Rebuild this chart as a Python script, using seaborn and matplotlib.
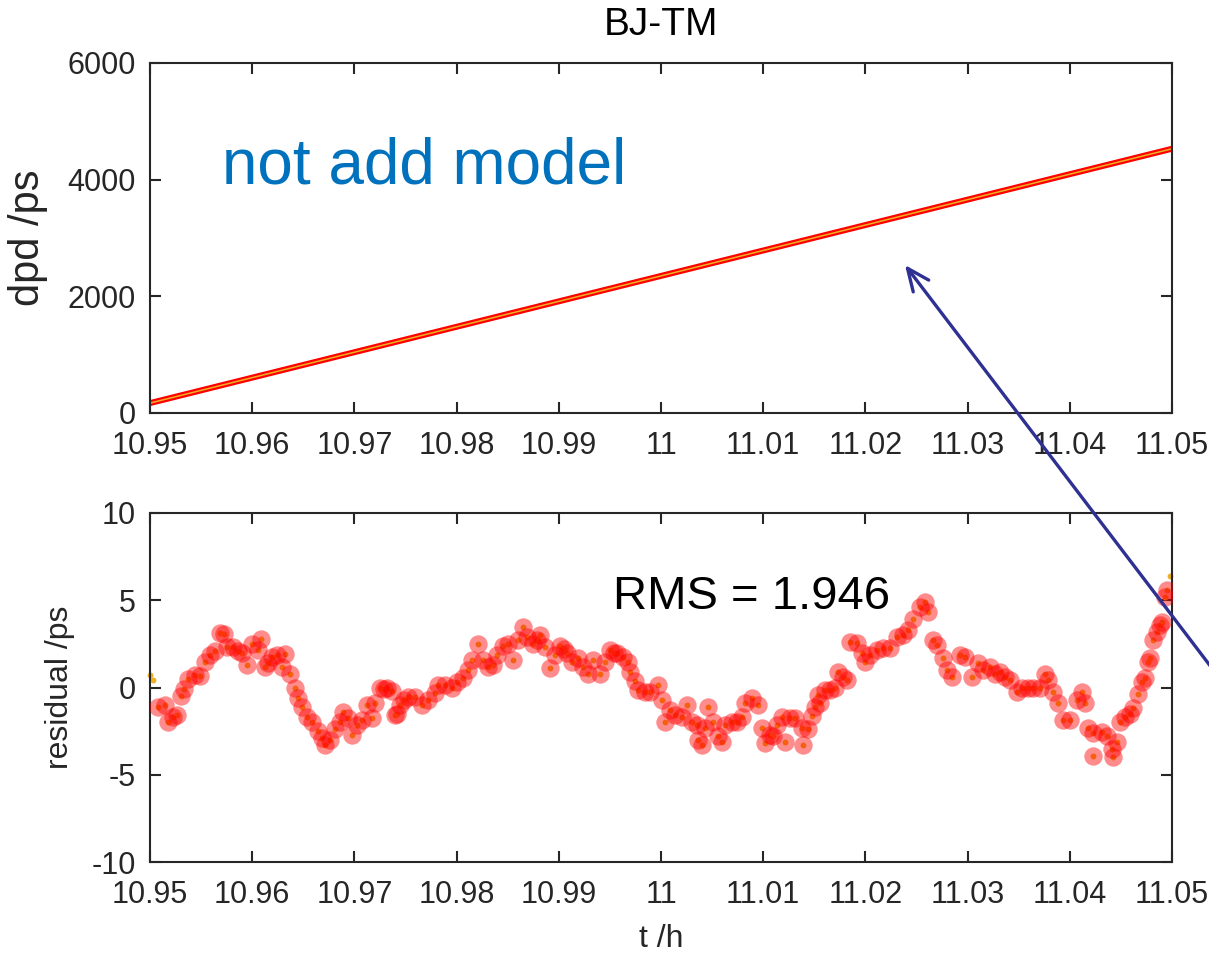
import numpy as np
import pandas as pd
import matplotlib
matplotlib.use("Agg")
import matplotlib.pyplot as plt
import seaborn as sns
from matplotlib.patches import FancyArrowPatch

# ---------------- data ----------------
title = "BJ-TM"
x_ticks = [10.95, 10.96, 10.97, 10.98, 10.99, 11.00, 11.01, 11.02, 11.03, 11.04, 11.05]
x_ticklabels = ["10.95", "10.96", "10.97", "10.98", "10.99", "11", "11.01", "11.02", "11.03", "11.04", "11.05"]
dpd_yticks = [0, 2000, 4000, 6000]
res_yticks = [-10, -5, 0, 5, 10]

t_dpd = [10.95, 10.97, 10.99, 11.01, 11.03, 11.05]
dpd = [170, 1042, 1914, 2786, 3658, 4530]

t_res = [
    10.95078, 10.95147, 10.95176, 10.95225, 10.95264, 10.95303, 10.95333, 10.95372, 10.95440, 10.95489,
    10.95538, 10.95587, 10.95636, 10.95685, 10.95724, 10.95753, 10.95812, 10.95861, 10.95900, 10.95949,
    10.95998, 10.96057, 10.96086, 10.96125, 10.96155, 10.96194, 10.96243, 10.96292, 10.96321, 10.96370,
    10.96419, 10.96448, 10.96487, 10.96536, 10.96585, 10.96644, 10.96683, 10.96712, 10.96761, 10.96810,
    10.96859, 10.96888, 10.96937, 10.96977, 10.97025, 10.97074, 10.97123, 10.97172, 10.97202, 10.97250,
    10.97290, 10.97319, 10.97368, 10.97397, 10.97417, 10.97446, 10.97485, 10.97524, 10.97593, 10.97661,
    10.97720, 10.97789, 10.97818, 10.97886, 10.97955, 10.98004, 10.98063, 10.98112, 10.98151, 10.98209,
    10.98258, 10.98307, 10.98356, 10.98395, 10.98454, 10.98503, 10.98552, 10.98601, 10.98650, 10.98689,
    10.98748, 10.98787, 10.98816, 10.98865, 10.98914, 10.98963, 10.99012, 10.99051, 10.99080, 10.99129,
    10.99188, 10.99237, 10.99286, 10.99335, 10.99403, 10.99452, 10.99501, 10.99540, 10.99570, 10.99628,
    10.99677, 10.99697, 10.99746, 10.99775, 10.99843, 10.99892, 10.99971, 11.00010, 11.00039, 11.00088,
    11.00137, 11.00205, 11.00254, 11.00303, 11.00352, 11.00362, 11.00401, 11.00431, 11.00460, 11.00509,
    11.00558, 11.00597, 11.00626, 11.00695, 11.00744, 11.00793, 11.00822, 11.00890, 11.00949, 11.00988,
    11.01018, 11.01067, 11.01096, 11.01135, 11.01184, 11.01213, 11.01262, 11.01311, 11.01380, 11.01389,
    11.01438, 11.01477, 11.01507, 11.01536, 11.01556, 11.01605, 11.01654, 11.01703, 11.01732, 11.01781,
    11.01820, 11.01849, 11.01918, 11.01967, 11.01996, 11.02045, 11.02114, 11.02172, 11.02241, 11.02309,
    11.02368, 11.02417, 11.02466, 11.02534, 11.02583, 11.02613, 11.02661, 11.02701, 11.02759, 11.02798,
    11.02847, 11.02926, 11.02975, 11.03043, 11.03102, 11.03151, 11.03219, 11.03268, 11.03317, 11.03366,
    11.03415, 11.03483, 11.03532, 11.03591, 11.03640, 11.03708, 11.03757, 11.03787, 11.03836, 11.03885,
    11.03933, 11.04002, 11.04070, 11.04119, 11.04149, 11.04178, 11.04227, 11.04229, 11.04315, 11.04364,
    11.04413, 11.04423, 11.04462, 11.04491, 11.04540, 11.04589, 11.04618, 11.04667, 11.04706, 11.04736,
    11.04765, 11.04785, 11.04814, 11.04853, 11.04883, 11.04902, 11.04932, 11.04951]

residual = [
    -1.1, -1.0, -2.0, -1.7, -1.6, -0.5, -0.1, 0.5, 0.7, 0.65,
    1.45, 1.85, 2.1, 3.1, 3.05, 2.3, 2.3, 2.1, 2.0, 1.3,
    2.5, 2.15, 2.8, 1.2, 1.4, 1.75, 1.85, 1.2, 1.9, 0.8,
    0.0, -0.6, -1.1, -1.7, -2.0, -2.5, -2.9, -3.3, -3.0, -2.4,
    -2.0, -1.4, -1.75, -2.7, -2.15, -1.85, -1.0, -1.75, -0.9, 0.0,
    -0.1, 0.0, -0.2, -1.6, -1.5, -1.0, -0.7, -0.55, -0.55, -1.0,
    -0.7, -0.3, 0.15, 0.15, 0.0, 0.3, 0.55, 1.0, 1.6, 2.5,
    1.6, 1.2, 1.3, 1.85, 2.4, 2.5, 1.6, 2.7, 3.45, 2.9,
    2.5, 2.7, 3.0, 2.3, 1.1, 1.85, 2.4, 2.2, 2.0, 1.45,
    1.7, 1.2, 0.8, 1.6, 0.8, 1.45, 2.15, 2.0, 2.0, 1.75,
    1.45, 0.9, 0.4, -0.15, -0.25, -0.25, 0.15, -0.7, -2.0, -1.3,
    -1.6, -1.7, -1.0, -2.0, -2.15, -3.0, -3.3, -2.3, -1.1, -2.0,
    -2.8, -3.1, -2.15, -2.0, -2.0, -1.7, -0.9, -0.6, -1.0, -2.3,
    -3.2, -2.7, -2.8, -2.15, -1.7, -3.1, -1.75, -1.75, -2.3, -3.3,
    -2.35, -1.65, -1.1, -0.45, -0.9, -0.15, -0.15, 0.0, 0.9, 0.6,
    0.45, 2.6, 2.55, 2.0, 1.45, 1.85, 2.15, 2.25, 2.25, 2.9,
    3.0, 3.3, 3.9, 4.6, 4.9, 4.3, 2.7, 2.45, 1.7, 1.0,
    0.6, 1.85, 1.75, 0.6, 1.4, 1.0, 1.2, 0.8, 0.9, 0.6,
    0.45, -0.25, 0.0, 0.0, 0.0, 0.0, 0.8, 0.45, -0.25, -0.9,
    -1.85, -1.85, -0.7, -0.25, -0.9, -2.3, -2.6, -3.9, -2.55, -2.8,
    -3.5, -4.0, -3.1, -2.0, -1.7, -1.5, -1.2, -0.4, 0.3, 0.55,
    1.45, 1.7, 2.7, 3.2, 3.6, 3.75, 5.2, 5.6]

# raw samples at the very edges (not covered by the highlighted markers)
t_edge = [10.95000, 10.95029, 11.04980]
residual_edge = [0.7, 0.45, 6.4]

rms_text = "RMS = 1.946"
model_text = "not add model"

# ---------------- style ----------------
sns.set_theme(style="white")
plt.rcParams["font.family"] = ["Liberation Sans", "DejaVu Sans"]
plt.rcParams["axes.unicode_minus"] = False
plt.rcParams["axes.edgecolor"] = "#262626"
plt.rcParams["xtick.color"] = "#262626"
plt.rcParams["ytick.color"] = "#262626"

fig = plt.figure(figsize=(12.09, 9.6), dpi=100)
ax1 = fig.add_axes([150 / 1209, 1 - 413 / 960, 1022 / 1209, 350 / 960])
ax2 = fig.add_axes([150 / 1209, 1 - 862 / 960, 1022 / 1209, 349 / 960])

RED = "#FF0000"
YEL = "#EDB120"

# top panel
df_top = pd.DataFrame({"t": t_dpd, "dpd": dpd})
sns.lineplot(data=df_top, x="t", y="dpd", ax=ax1, color=RED, linewidth=4.3,
             solid_capstyle="round")
sns.lineplot(data=df_top, x="t", y="dpd", ax=ax1, color=YEL, linewidth=1.1)
ax1.set_ylim(0, 6000)
ax1.set_yticks(dpd_yticks)
ax1.set_ylabel("dpd /ps", fontsize=30, labelpad=14)
ax1.set_title(title, fontsize=28, pad=20, color="black")
ax1.text(0.0705, 0.657, model_text, transform=ax1.transAxes, fontsize=46,
         color="#0072BD", va="baseline", ha="left")

# bottom panel
df_res = pd.DataFrame({"t": t_res, "r": residual})
df_edge = pd.DataFrame({"t": t_edge, "r": residual_edge})
sns.scatterplot(data=pd.concat([df_res, df_edge]), x="t", y="r", ax=ax2,
                color=YEL, s=18, linewidth=0, clip_on=False, zorder=2)
sns.scatterplot(data=df_res, x="t", y="r", ax=ax2, color=RED, s=175,
                alpha=0.45, linewidth=0, zorder=3)
ax2.set_ylim(-10, 10)
ax2.set_yticks(res_yticks)
ax2.set_ylabel("residual /ps", fontsize=23, labelpad=12)
ax2.set_xlabel("t /h", fontsize=23, labelpad=10)
ax2.text(0.453, 0.725, rms_text, transform=ax2.transAxes, fontsize=34,
         color="black", va="baseline", ha="left")

for ax in (ax1, ax2):
    ax.set_xlim(10.95, 11.05)
    ax.set_xticks(x_ticks)
    ax.set_xticklabels(x_ticklabels)
    ax.tick_params(axis="both", which="both", direction="in", length=8, width=1.5,
                   labelsize=22, top=True, right=True, bottom=True, left=True)
    ax.tick_params(axis="x", pad=13)
    ax.tick_params(axis="y", pad=10)
    for s in ax.spines.values():
        s.set_visible(True)
        s.set_linewidth(1.5)
        s.set_color("#262626")
    ax.grid(False)

ax1.set_xlabel("")

# arrow pointing at the top curve
arrow = FancyArrowPatch(posA=(1240 / 1209, 1 - 705 / 960), posB=(905 / 1209, 1 - 265 / 960),
                        transform=fig.transFigure, arrowstyle="->,head_length=16,head_width=7",
                        mutation_scale=1, color="#2E3192", linewidth=2.4,
                        shrinkA=0, shrinkB=0)
fig.add_artist(arrow)

fig.savefig("out.png", dpi=100)
